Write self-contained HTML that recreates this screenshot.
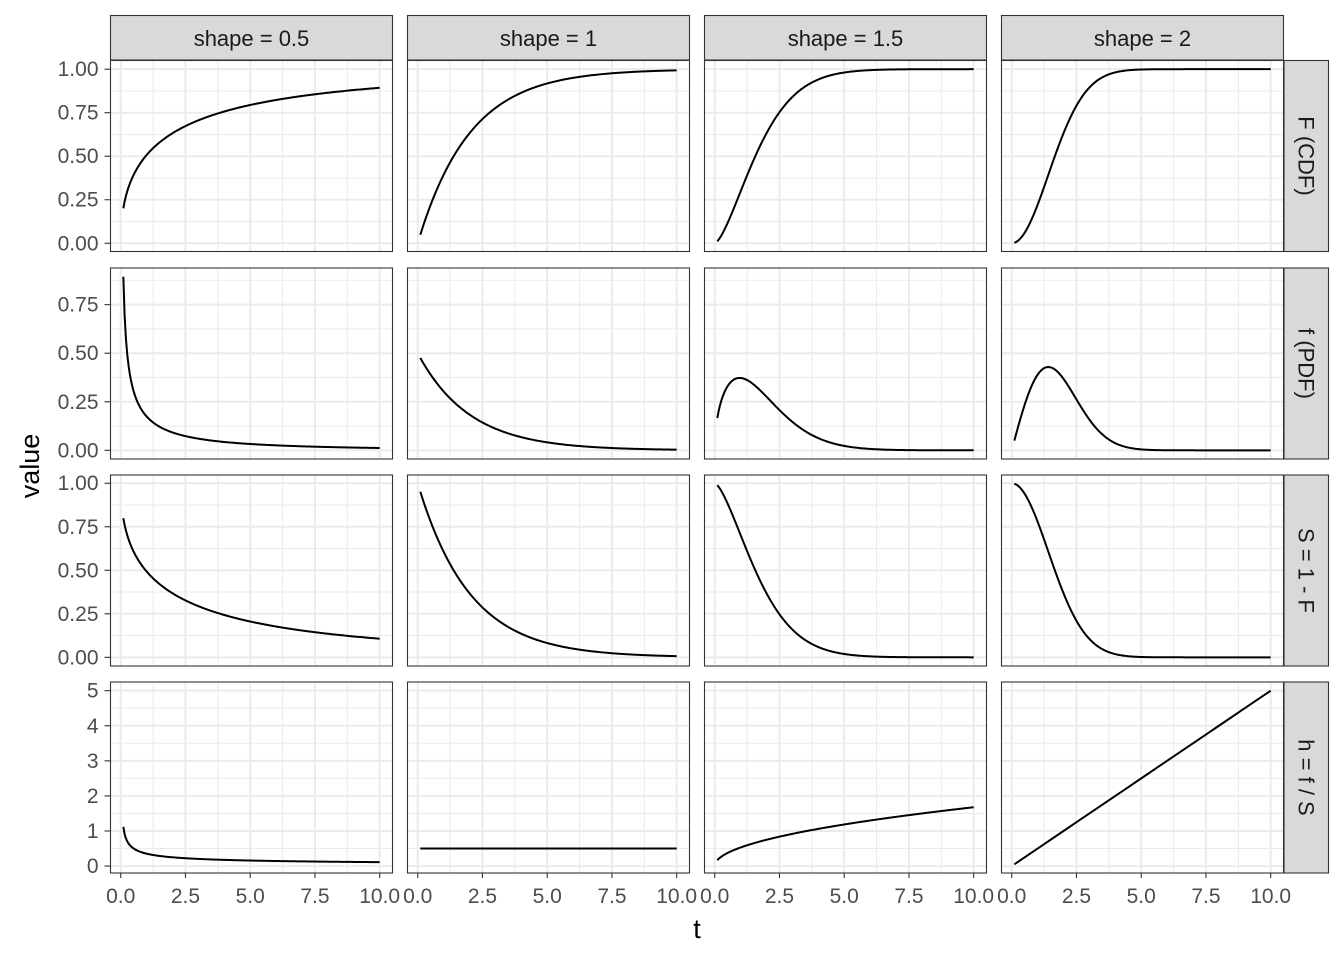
<!DOCTYPE html>
<html><head><meta charset="utf-8"><style>
html,body{margin:0;padding:0;background:#fff}
svg{display:block;font-family:"Liberation Sans",sans-serif}
</style></head><body>
<svg id="chart" width="1344" height="960" xmlns="http://www.w3.org/2000/svg"></svg>
<script>
const shapes = [0.5, 1, 1.5, 2];
const scaleParam = 2;
const rowLabels = ["F (CDF)", "f (PDF)", "S = 1 - F", "h = f / S"];
const xTicks = [0, 2.5, 5, 7.5, 10];
const xTickLabels = ["0.0", "2.5", "5.0", "7.5", "10.0"];
const yTicksRow1 = [0, 0.25, 0.5, 0.75, 1];
const yTicksRow2 = [0, 0.25, 0.5, 0.75];
const yTicksRow3 = [0, 0.25, 0.5, 0.75, 1];
const yTicksRow4 = [0, 1, 2, 3, 4, 5];
const yTickLabelsRow1 = ["0.00","0.25","0.50","0.75","1.00"];
const yTickLabelsRow2 = ["0.00","0.25","0.50","0.75"];
const yTickLabelsRow3 = ["0.00","0.25","0.50","0.75","1.00"];
const yTickLabelsRow4 = ["0","1","2","3","4","5"];
const tStart = 0.1, tEnd = 10, tStep = 0.05;

const NS = "http://www.w3.org/2000/svg";
const svg = document.getElementById("chart");
function mk(tag, attrs, parent){const e=document.createElementNS(NS,tag);for(const k in attrs)e.setAttribute(k,attrs[k]);(parent||svg).appendChild(e);return e;}

const colX = [110.5, 407.5, 704.5, 1001.5], panelW = 282;
const rowY = [60.5, 268, 475, 682], panelH = 191;
const yTicks = [yTicksRow1,yTicksRow2,yTicksRow3,yTicksRow4];
const yLabs = [yTickLabelsRow1,yTickLabelsRow2,yTickLabelsRow3,yTickLabelsRow4];
const TICK_FS = 21, STRIP_FS = 22, TITLE_FS = 27;

const ts=[]; for(let t=tStart;t<=tEnd+1e-9;t+=tStep) ts.push(+t.toFixed(4));
function fn(row,k,t){
  const z=Math.pow(t/scaleParam,k), S=Math.exp(-z);
  const f=(k/scaleParam)*Math.pow(t/scaleParam,k-1)*S;
  if(row===0) return 1-S; if(row===1) return f; if(row===2) return S; return f/S;
}
const data=[]; const yr=[];
for(let r=0;r<4;r++){let mn=Infinity,mx=-Infinity;data[r]=[];
  for(let c=0;c<4;c++){const v=ts.map(t=>fn(r,shapes[c],t));data[r][c]=v;v.forEach(a=>{mn=Math.min(mn,a);mx=Math.max(mx,a);});}
  const e=(mx-mn)*0.05; yr[r]=[mn-e,mx+e];}
const xr=[tStart-(tEnd-tStart)*0.05, tEnd+(tEnd-tStart)*0.05];
const xS=(c,v)=>colX[c]+(v-xr[0])/(xr[1]-xr[0])*panelW;
const yS=(r,v)=>rowY[r]+panelH-(v-yr[r][0])/(yr[r][1]-yr[r][0])*panelH;

for(let r=0;r<4;r++)for(let c=0;c<4;c++){
  const g=mk("g",{});
  
  
  mk("rect",{x:colX[c],y:rowY[r],width:panelW,height:panelH,fill:"#fff"},g);
  for(let i=0;i<xTicks.length-1;i++){const x=xS(c,(xTicks[i]+xTicks[i+1])/2);mk("line",{x1:x,x2:x,y1:rowY[r],y2:rowY[r]+panelH,stroke:"#ebebeb","stroke-width":1},g);}
  const yt=yTicks[r];
  for(let i=0;i<yt.length-1;i++){const y=yS(r,(yt[i]+yt[i+1])/2);mk("line",{x1:colX[c],x2:colX[c]+panelW,y1:y,y2:y,stroke:"#ebebeb","stroke-width":1},g);}
  const yTop=yt[yt.length-1]+(yt[1]-yt[0])/2; if(yS(r,yTop)>rowY[r]){const y=yS(r,yTop);mk("line",{x1:colX[c],x2:colX[c]+panelW,y1:y,y2:y,stroke:"#ebebeb","stroke-width":1},g);}
  xTicks.forEach(v=>{const x=xS(c,v);mk("line",{x1:x,x2:x,y1:rowY[r],y2:rowY[r]+panelH,stroke:"#ebebeb","stroke-width":2},g);});
  yt.forEach(v=>{const y=yS(r,v);mk("line",{x1:colX[c],x2:colX[c]+panelW,y1:y,y2:y,stroke:"#ebebeb","stroke-width":2},g);});
  const d=data[r][c].map((v,i)=>(i?"L":"M")+xS(c,ts[i]).toFixed(2)+","+yS(r,v).toFixed(2)).join("");
  const p=mk("path",{d:d,fill:"none",stroke:"#000","stroke-width":2},g);
  
  
  mk("rect",{x:colX[c],y:rowY[r],width:panelW,height:panelH,fill:"none",stroke:"#333","stroke-width":1.1},g);
}
for(let r=0;r<4;r++){
  const ax=mk("g",{});
  
  
  yTicks[r].forEach((v,i)=>{const y=yS(r,v);
    mk("line",{x1:colX[0]-6,x2:colX[0],y1:y,y2:y,stroke:"#333","stroke-width":1.1},ax);
    const t=mk("text",{x:colX[0]-12,y:y+7,"text-anchor":"end","font-size":TICK_FS,fill:"#4d4d4d"},ax);t.textContent=yLabs[r][i];});
}
for(let c=0;c<4;c++){
  const ax=mk("g",{});
  
  
  xTicks.forEach((v,i)=>{const x=xS(c,v);const y0=rowY[3]+panelH;
    mk("line",{x1:x,x2:x,y1:y0,y2:y0+5,stroke:"#333","stroke-width":1.1},ax);
    const t=mk("text",{x:x,y:y0+30,"text-anchor":"middle","font-size":TICK_FS,fill:"#4d4d4d"},ax);t.textContent=xTickLabels[i];});
}
for(let c=0;c<4;c++){
  const g=mk("g",{});
  
  
  mk("rect",{x:colX[c],y:15.5,width:panelW,height:44.5,fill:"#d9d9d9",stroke:"#333","stroke-width":1.1},g);
  const t=mk("text",{x:colX[c]+panelW/2,y:46,"text-anchor":"middle","font-size":STRIP_FS,fill:"#1a1a1a"},g);t.textContent="shape = "+shapes[c];
}
for(let r=0;r<4;r++){
  const g=mk("g",{});
  
  
  mk("rect",{x:1284,y:rowY[r],width:44.5,height:panelH,fill:"#d9d9d9",stroke:"#333","stroke-width":1.1},g);
  const cx=1298.5,cy=rowY[r]+panelH/2;
  const t=mk("text",{x:cx,y:cy,"text-anchor":"middle","font-size":STRIP_FS,fill:"#1a1a1a",transform:`rotate(90 ${cx} ${cy})`},g);t.textContent=rowLabels[r];
}
const xt=mk("text",{x:697,y:938,"text-anchor":"middle","font-size":TITLE_FS,fill:"#000"});xt.textContent="t";


const yl=mk("text",{x:39,y:466,"text-anchor":"middle","font-size":TITLE_FS,fill:"#000",transform:"rotate(-90 39 466)"});yl.textContent="value";


</script>
</body></html>
